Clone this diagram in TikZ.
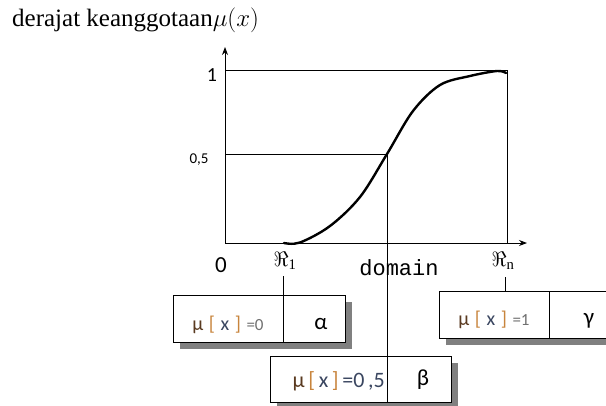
\documentclass[tikz,border=0pt]{standalone}
\usepackage{fontspec}
\setmainfont{Liberation Serif}
\newfontfamily\calfont{Carlito}
\newfontfamily\monofont{Liberation Mono}
\usetikzlibrary{arrows.meta}
\definecolor{shadowgray}{HTML}{808080}
\definecolor{mubrown}{HTML}{5A3A20}
\definecolor{brk}{HTML}{C8843C}
\definecolor{xcol}{HTML}{3A4660}
\definecolor{eqcol}{HTML}{707070}
\tikzset{
  axis/.style={line width=0.9pt, -{Stealth[length=8pt,width=6pt]}},
  guide/.style={line width=0.9pt},
  curve/.style={line width=2.4pt, line cap=round},
  cellbox/.style={draw, line width=0.9pt, fill=white},
  shadowbox/.style={fill=shadowgray, draw=none},
  ticklbl/.style={font=\calfont\fontsize{20}{22}\selectfont, inner sep=0pt},
  boxtxt/.style={font=\calfont\fontsize{20}{22}\selectfont, inner sep=0pt},
  greek/.style={font=\calfont\fontsize{23}{25}\selectfont, inner sep=0pt}
}
\newcommand{\mux}[1]{{\color{mubrown}μ}\;{\color{brk}[}\;{\color{xcol}x}\;{\color{brk}]}\;{\color{eqcol}\fontsize{17}{19}\selectfont#1}}
\begin{document}
\begin{tikzpicture}[x=1pt,y=-1pt]
\useasboundingbox (0,0) rectangle (606,405);
\clip (0,0) rectangle (606,405);
% title
\node[anchor=west, inner sep=0pt, font=\fontsize{25}{27}\selectfont] (title) at (12,20) {derajat keanggotaan$\mu(x)$};
% axes
\coordinate (O) at (225,243);
\coordinate (ytop) at (225,47);
\coordinate (xend) at (527,243);
\coordinate (one) at (225,70);
\coordinate (Rn) at (507,70);
\coordinate (Rnb) at (507,243);
\coordinate (half) at (225,154);
\coordinate (P) at (387,154);
\draw[axis] (O) -- (ytop);
\draw[axis] (O) -- (xend);
\draw[guide] (one) -- (Rn) -- (Rnb);
\draw[guide] (half) -- (P);
% curve
\draw[curve] plot[smooth, tension=0.55] coordinates {(284,243) (300,242.5) (330,226) (360,197) (387,154) (413,111) (440,85) (470,76) (497,71) (506,73)};
% labels
\node[ticklbl] (l1) at (212,75) {1};
\node[inner sep=0pt, font=\calfont\fontsize{15}{17}\selectfont] (l05) at (199,160) {0,5};
\node[inner sep=0pt, font=\calfont\fontsize{23}{25}\selectfont] (l0) at (221,265) {0};
\node[inner sep=0pt, font=\fontsize{21}{23}\selectfont] (R1) at (285,261) {$\Re_{\mathrm{1}}$};
\node[inner sep=0pt, font=\fontsize{21}{23}\selectfont] (Rnl) at (503,261) {$\Re_{\mathrm{n}}$};
\node[inner sep=0pt, font=\monofont\fontsize{22}{24}\selectfont] (dom) at (399,268) {domain};
% alpha box
\fill[shadowbox] (180,302) rectangle (352,349);
\node[cellbox, minimum width=110pt, minimum height=47pt, anchor=north west] (a1) at (173,295) {};
\node[cellbox, minimum width=62pt, minimum height=47pt, anchor=north west] (a2) at (283,295) {};
\node[boxtxt] at (228,325) {\mux{=0}};
\node[greek] at (321,324) {α};
% gamma box
\fill[shadowbox] (446,298) rectangle (620,345);
\node[cellbox, minimum width=110pt, minimum height=47pt, anchor=north west] (g1) at (439,291) {};
\node[cellbox, minimum width=70pt, minimum height=47pt, anchor=north west] (g2) at (549,291) {};
\node[boxtxt] at (494,320) {\mux{=1}};
\node[greek] at (589,321) {γ};
% beta box
\fill[shadowbox] (277,363) rectangle (458,409);
\node[cellbox, minimum width=117pt, minimum height=46pt, anchor=north west] (b1) at (270,356) {};
\node[cellbox, minimum width=64pt, minimum height=46pt, anchor=north west] (b2) at (387,356) {};
\node[boxtxt, anchor=east, font=\calfont\fontsize{22}{24}\selectfont] at (385,381) {{\color{mubrown}μ}\,{\color{brk}[}\,{\color{xcol}x}\,{\color{brk}]}\,{\color{xcol}=0\,,5}};
\node[greek] at (423,380) {β};
% connectors
\coordinate (c1) at (283,276);
\coordinate (cn) at (505,277);
\draw[guide] (c1) -- (a2.north west);
\draw[guide] (P) -- (b2.north west);
\draw[guide] (cn) -- (cn |- g1.north);
\end{tikzpicture}
\end{document}
